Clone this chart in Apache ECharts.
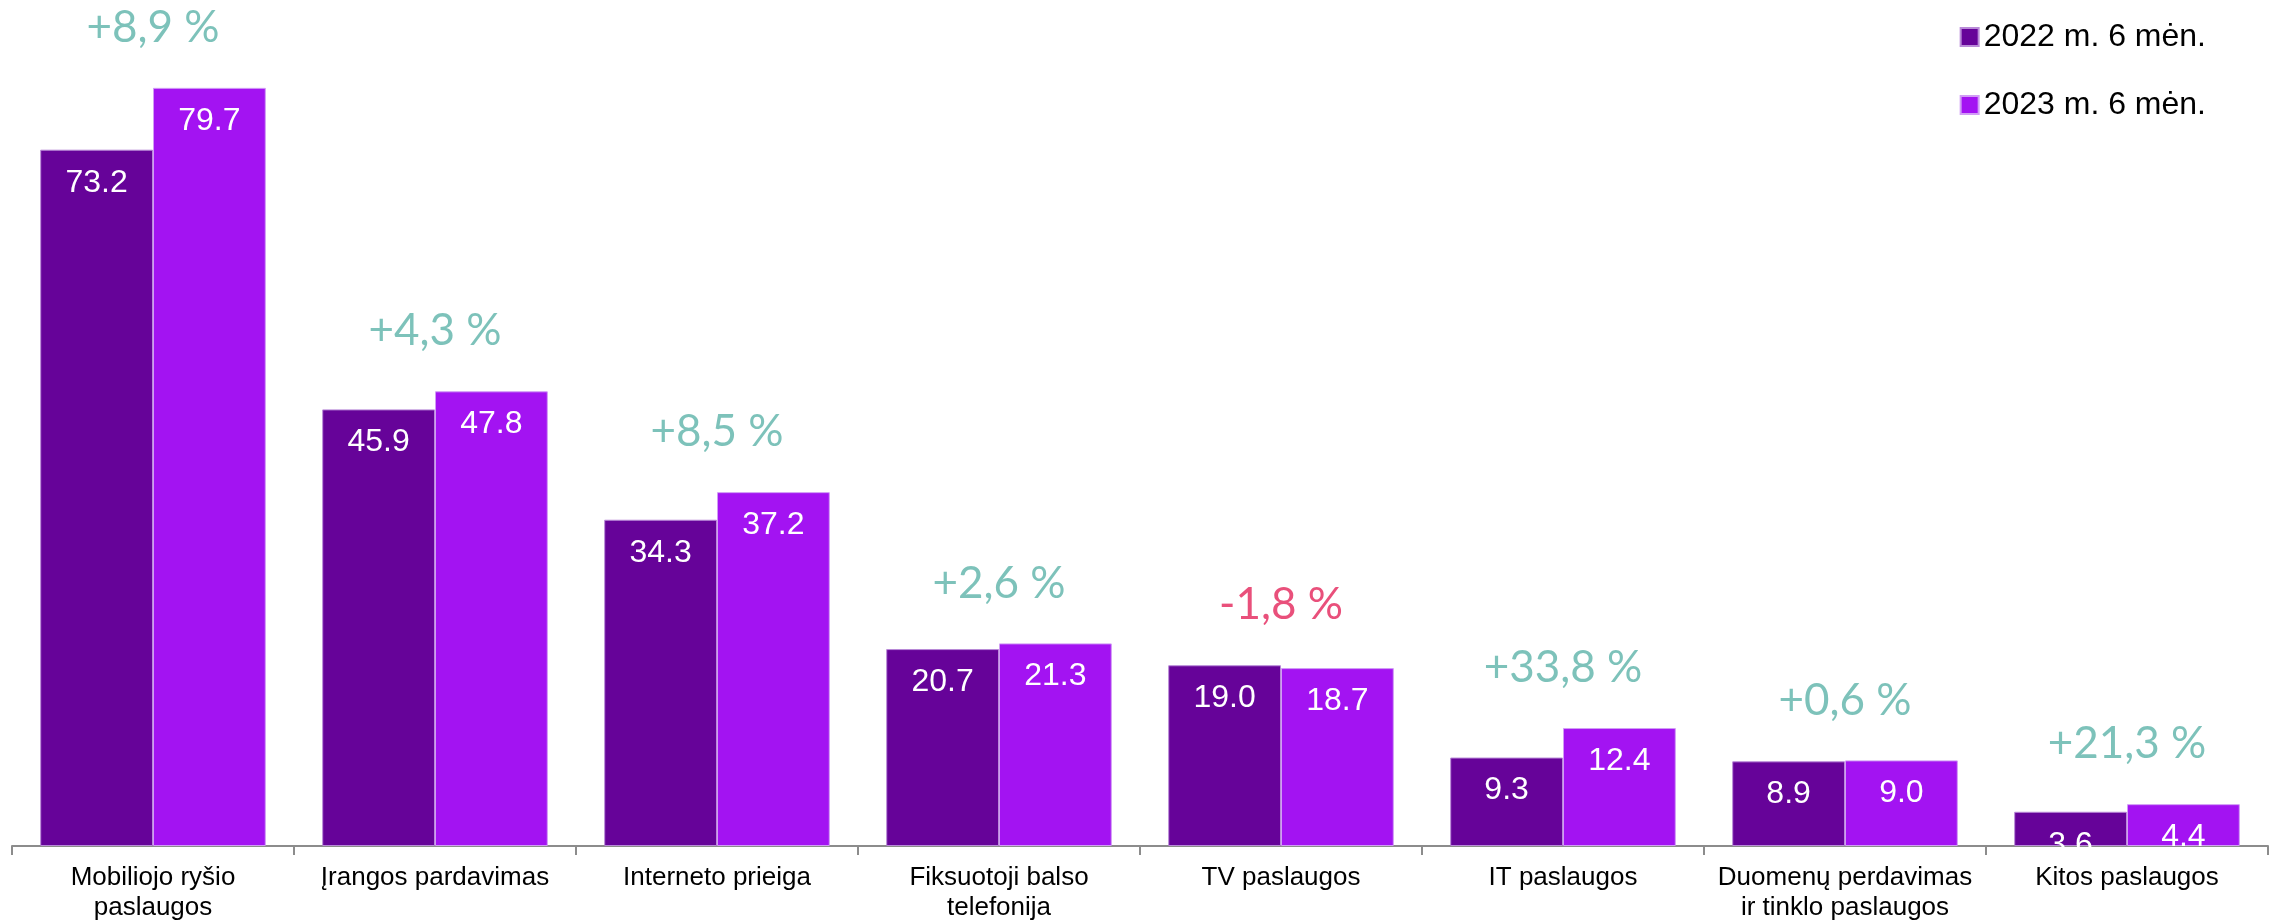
<!DOCTYPE html>
<html>
<head>
<meta charset="utf-8">
<script src="https://cdn.jsdelivr.net/npm/echarts@6/dist/echarts.min.js"></script>
<style>
html,body{margin:0;padding:0;background:#fff;}
#main{width:2275px;height:923px;}
</style>
</head>
<body>
<div id="main"></div>
<script>
var categories = ['Mobiliojo ryšio\npaslaugos', 'Įrangos pardavimas', 'Interneto prieiga', 'Fiksuotoji balso\ntelefonija', 'TV paslaugos', 'IT paslaugos', 'Duomenų perdavimas\nir tinklo paslaugos', 'Kitos paslaugos'];
var values2022 = [73.2, 45.9, 34.3, 20.7, 19.0, 9.3, 8.9, 3.6];
var values2023 = [79.7, 47.8, 37.2, 21.3, 18.7, 12.4, 9.0, 4.4];
var changes = [8.9, 4.3, 8.5, 2.6, -1.8, 33.8, 0.6, 21.3];
var seriesNames = ['2022 m. 6 mėn.', '2023 m. 6 mėn.'];

var dom = document.getElementById('main');
var myChart = echarts.init(dom);

// pokyčio užrašai virš kiekvienos grupės
var changeData = changes.map(function (c, i) {
    return {
        value: Math.max(values2022[i], values2023[i]),
        label: { color: c < 0 ? '#e3245a' : '#5cb3a9' }
    };
});

function fmtChange(c) {
    return (c > 0 ? '+' : '') + c.toFixed(1).replace('.', ',') + ' %';
}

var valueLabel = {
    show: true,
    position: 'insideTop',
    distance: 17,
    color: '#fff',
    fontFamily: 'Liberation Sans',
    fontSize: 32,
    formatter: function (p) { return p.value.toFixed(1); }
};

var option = {
    backgroundColor: '#fff',
    animation: false,
    legend: {
        orient: 'vertical',
        right: 64,
        top: 16,
        itemGap: 36,
        itemWidth: 18,
        itemHeight: 18,
        icon: 'rect',
        textStyle: { fontFamily: 'Liberation Sans', fontSize: 32, color: '#000' },
        data: seriesNames
    },
    grid: {
        left: 12,
        right: 7,
        top: 85,
        bottom: 77,
        containLabel: false
    },
    xAxis: {
        type: 'category',
        data: categories,
        axisLine: { lineStyle: { color: '#8c8c8c', width: 2 } },
        axisTick: { show: true, length: 9, lineStyle: { color: '#8c8c8c', width: 2 } },
        axisLabel: {
            interval: 0,
            margin: 17,
            color: '#000',
            fontFamily: 'Liberation Sans',
            fontSize: 26,
            lineHeight: 30
        }
    },
    yAxis: {
        type: 'value',
        min: 0,
        max: 80,
        show: false,
        splitLine: { show: false }
    },
    series: [{
        name: seriesNames[0],
        type: 'bar',
        barGap: '0%',
        barCategoryGap: '20%',
        itemStyle: { color: '#660399', borderColor: '#b98ad8', borderWidth: 1 },
        label: valueLabel,
        data: values2022
    }, {
        name: seriesNames[1],
        type: 'bar',
        itemStyle: { color: '#a313f2', borderColor: '#d19cf5', borderWidth: 1 },
        label: valueLabel,
        data: values2023
    }, {
        name: 'pokytis',
        type: 'scatter',
        symbolSize: 0,
        silent: true,
        label: {
            show: true,
            position: 'top',
            distance: 38,
            fontFamily: 'Lato',
            fontSize: 44,
            formatter: function (p) { return fmtChange(changes[p.dataIndex]); }
        },
        data: changeData
    }]
};

if (option && typeof option === "object") {
    myChart.setOption(option, true);
}
</script>
</body>
</html>
